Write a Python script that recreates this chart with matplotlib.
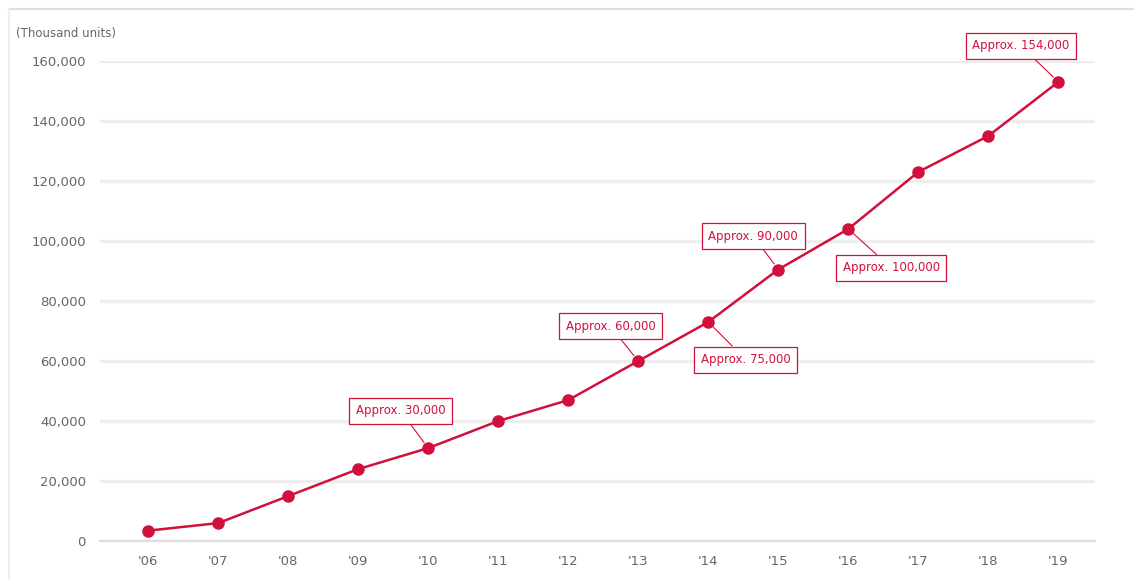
import matplotlib.pyplot as plt

# Dados
years = ["'06", "'07", "'08", "'09", "'10", "'11", "'12", "'13", "'14", "'15", "'16", "'17", "'18", "'19"]
units = [3500, 6000, 15000, 24000, 31000, 40000, 47000, 60000, 73000, 90500, 104000, 123000, 135000, 153000]
yticks = [0, 20000, 40000, 60000, 80000, 100000, 120000, 140000, 160000]

# Anotações: índice do ano, texto, deslocamento da caixa (pontos)
notes_idx = [4, 7, 8, 9, 10, 13]
notes_text = ["Approx. 30,000", "Approx. 60,000", "Approx. 75,000",
              "Approx. 90,000", "Approx. 100,000", "Approx. 154,000"]
notes_offset = [(-20, 27), (-20, 25), (27, -27), (-18, 24), (31, -28), (-27, 26)]

red = '#d2103c'
gray = '#666666'

fig = plt.figure(figsize=(11.34, 5.8), dpi=100)
ax = fig.add_axes([0.088, 0.067, 0.878, 0.828])

x = list(range(len(years)))
ax.plot(x, units, color=red, linewidth=1.8, marker='o', markersize=8, zorder=3)

ax.set_xlim(-0.69, 13.53)
ax.set_ylim(0, 160000)
ax.set_xticks(x)
ax.set_xticklabels(years)
ax.set_yticks(yticks)
ax.set_yticklabels([f'{v:,}' for v in yticks])
ax.tick_params(colors=gray, labelsize=9.5, length=0, pad=10)
ax.grid(axis='y', color='#eeeeee', linewidth=2.5)
ax.set_axisbelow(True)
for s in ['top', 'right', 'left']:
    ax.spines[s].set_visible(False)
ax.spines['bottom'].set_color('#dddddd')
ax.spines['bottom'].set_linewidth(1.5)

for i, txt, off in zip(notes_idx, notes_text, notes_offset):
    ax.annotate(txt, xy=(x[i], units[i]), xytext=off, textcoords='offset points',
                ha='center', va='center', color=red, fontsize=8.5,
                bbox=dict(boxstyle='square,pad=0.55', fc='white', ec=red, lw=0.9),
                arrowprops=dict(arrowstyle='-', color=red, lw=0.8, shrinkA=0, shrinkB=5),
                annotation_clip=False, zorder=4)

fig.text(0.014, 0.943, '(Thousand units)', color=gray, fontsize=8.5, ha='left', va='center')

# moldura clara
fig.add_artist(plt.Line2D([0.008, 1.0], [0.985, 0.985], color='#dddddd', lw=1.5))
fig.add_artist(plt.Line2D([0.008, 0.008], [0.0, 0.985], color='#eeeeee', lw=1.5))

plt.savefig('out.png', dpi=100)
